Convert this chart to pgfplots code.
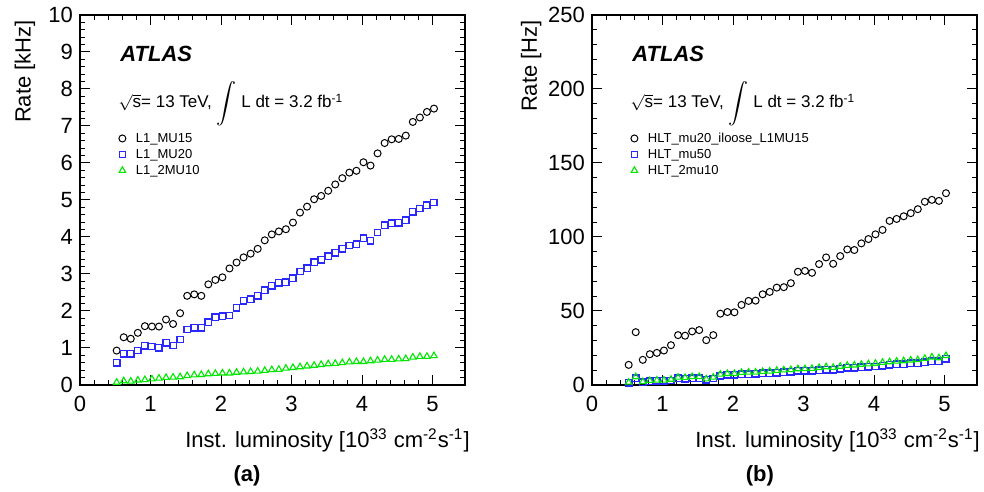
\documentclass[border=0pt]{standalone}
\usepackage{fontspec}
\setmainfont{Liberation Sans}
\usepackage{pgfplots}
\pgfplotsset{compat=1.18}
\usepackage{pgfplotstable}

\definecolor{rootblue}{RGB}{40,40,255}
\definecolor{rootgreen}{RGB}{0,230,0}

% L1 rates [kHz]
\pgfplotstableread{
x    mu15 mu20 twomu10
0.52 0.93 0.60 0.07
0.62 1.29 0.84 0.11
0.72 1.25 0.84 0.10
0.82 1.41 0.93 0.13
0.92 1.59 1.06 0.14
1.02 1.58 1.04 0.16
1.12 1.58 1.01 0.18
1.22 1.77 1.14 0.20
1.32 1.65 1.07 0.21
1.42 1.94 1.23 0.22
1.52 2.41 1.50 0.25
1.62 2.45 1.55 0.27
1.72 2.41 1.55 0.28
1.82 2.72 1.70 0.30
1.92 2.84 1.83 0.31
2.02 2.91 1.86 0.32
2.12 3.15 1.88 0.32
2.22 3.31 2.09 0.34
2.32 3.45 2.28 0.35
2.42 3.55 2.32 0.36
2.52 3.68 2.41 0.37
2.62 3.91 2.56 0.39
2.72 4.07 2.68 0.41
2.82 4.15 2.76 0.42
2.92 4.21 2.78 0.45
3.02 4.39 2.89 0.47
3.12 4.66 3.07 0.49
3.22 4.82 3.16 0.51
3.32 5.02 3.32 0.53
3.42 5.11 3.38 0.55
3.52 5.25 3.48 0.57
3.62 5.42 3.57 0.58
3.72 5.59 3.68 0.60
3.82 5.74 3.77 0.62
3.92 5.79 3.81 0.63
4.02 6.02 3.97 0.63
4.12 5.93 3.90 0.65
4.22 6.26 4.12 0.67
4.32 6.54 4.32 0.69
4.42 6.64 4.37 0.69
4.52 6.65 4.38 0.70
4.62 6.74 4.45 0.71
4.72 7.11 4.68 0.75
4.82 7.23 4.77 0.77
4.92 7.38 4.86 0.77
5.02 7.47 4.93 0.79
}\lonetab

% HLT rates [Hz]
\pgfplotstableread{
x    iloose mufifty twomu
0.52 13.6  1.6  1.8
0.62 35.7  4.5  5.5
0.72 17.0  1.9  2.2
0.82 20.8  2.6  3.0
0.92 21.7  2.8  3.2
1.02 23.3  2.8  3.2
1.12 26.9  3.1  3.8
1.22 33.7  4.5  5.2
1.32 33.3  4.3  5.0
1.42 36.2  4.7  5.6
1.52 37.1  4.7  5.6
1.62 30.3  3.5  4.0
1.72 33.7  4.4  5.2
1.82 48.2  6.3  7.2
1.92 49.3  6.8  7.7
2.02 49.1  6.8  7.7
2.12 54.1  7.2  8.4
2.22 56.8  7.4  8.6
2.32 57.0  7.5  8.6
2.42 61.3  7.9  9.1
2.52 62.9  8.1  9.3
2.62 65.8  8.3  9.8
2.72 66.1  8.7 10.1
2.82 68.8  9.0 10.3
2.92 76.5  9.5 10.9
3.02 77.1  9.6 11.0
3.12 75.8  9.7 11.1
3.22 81.7 10.1 11.7
3.32 86.2 10.4 12.2
3.42 81.9 10.2 11.8
3.52 87.1 10.9 12.6
3.62 91.6 11.5 13.2
3.72 91.2 11.5 13.4
3.82 95.7 12.0 13.9
3.92 98.6 12.3 14.2
4.02 101.8 12.5 14.6
4.12 104.8 13.1 15.2
4.22 110.9 13.6 15.6
4.32 112.2 14.0 16.0
4.42 114.0 14.1 16.3
4.52 116.1 14.6 16.8
4.62 118.8 14.8 17.0
4.72 123.8 15.5 17.9
4.82 125.1 16.0 18.8
4.92 124.4 16.0 18.3
5.02 129.6 17.6 19.8
}\hlttab

\pgfplotsset{
  atlasaxis/.style={
    scale only axis, width=192.5pt, height=185pt,
    xmin=0, xmax=5.46, ymin=0,
    clip mode=individual,
    xtick={0,...,5}, minor x tick num=4, minor y tick num=4,
    tick align=inside,
    major tick length=5pt, minor tick length=2.5pt,
    axis line style={line width=0.6pt},
    every tick/.style={black, line width=0.5pt},
    /pgf/number format/assume math mode=true,
    tick label style={font=\fontsize{11}{13}\selectfont},
    xticklabel style={yshift=-2pt},
    label style={font=\fontsize{11}{13}\selectfont},
    xlabel={Inst. luminosity [10\textsuperscript{33} cm\textsuperscript{-2}s\textsuperscript{-1}]},
    ylabel style={anchor=east},
    legend cell align=left,
    legend style={draw=none, fill=none, inner sep=0pt, column sep=4pt,
      at={(axis description cs:0.100,0.689)}, anchor=north west,
      font=\fontsize{6.5}{7.5}\selectfont,
      nodes={inner sep=1pt, text height=5pt, text depth=1pt}},
    legend image code/.code={\draw[mark repeat=2,mark phase=2,#1] plot coordinates {(0pt,0pt) (2.5pt,0pt) (5pt,0pt)};},
  },
  circ/.style={only marks, mark=o, black, mark size=1.75pt, line width=0.5pt},
  sq/.style={only marks, mark=square, draw=rootblue, color=rootblue, mark options={draw=rootblue, fill=none}, mark size=1.6pt, line width=0.7pt},
  tri/.style={only marks, mark=triangle, color=rootgreen, mark options={draw=rootgreen}, mark size=1.85pt, line width=0.55pt},
}

\newcommand{\atlastext}{%
  \node[anchor=base west, inner sep=0pt, font=\fontsize{11}{13}\selectfont\bfseries\itshape]
    at (axis description cs:0.104,0.873) {ATLAS};
  \node[anchor=base west, inner sep=0pt, font=\fontsize{8.5}{10}\selectfont]
    at (axis description cs:0.099,0.749)
    {$\sqrt{\mbox{s}}$= 13 TeV, $\displaystyle\int$ L dt = 3.2 fb\textsuperscript{-1}};
}

\begin{document}
\begin{tikzpicture}
\path[use as bounding box] (0pt,0pt) rectangle (492pt,246pt);

\begin{axis}[atlasaxis, at={(40pt,53.5pt)}, anchor=south west,
  ymax=10, ytick={0,...,10},
  ylabel={Rate [kHz]},
  ylabel style={at={(axis description cs:-0.143,1.005)}},
  xlabel style={at={(axis description cs:1.013,-0.168)}, anchor=base east, inner sep=0pt}]
\addplot[circ] table[x=x, y=mu15] {\lonetab};
\addlegendentry{L1\_MU15}
\addplot[sq] table[x=x, y=mu20] {\lonetab};
\addlegendentry{L1\_MU20}
\addplot[tri] table[x=x, y=twomu10] {\lonetab};
\addlegendentry{L1\_2MU10}
\atlastext
\node[font=\fontsize{11}{13}\selectfont\bfseries] at (axis description cs:0.434,-0.246) {(a)};
\end{axis}

\begin{axis}[atlasaxis, at={(296pt,53.5pt)}, anchor=south west,
  ymax=250, ytick={0,50,...,250},
  ylabel={Rate [Hz]},
  ylabel style={at={(axis description cs:-0.158,1.005)}},
  xlabel style={at={(axis description cs:1.008,-0.168)}, anchor=base east, inner sep=0pt}]
\addplot[circ] table[x=x, y=iloose] {\hlttab};
\addlegendentry{HLT\_mu20\_iloose\_L1MU15}
\addplot[sq] table[x=x, y=mufifty] {\hlttab};
\addlegendentry{HLT\_mu50}
\addplot[tri] table[x=x, y=twomu] {\hlttab};
\addlegendentry{HLT\_2mu10}
\atlastext
\node[font=\fontsize{11}{13}\selectfont\bfseries] at (axis description cs:0.436,-0.246) {(b)};
\end{axis}
\end{tikzpicture}
\end{document}
